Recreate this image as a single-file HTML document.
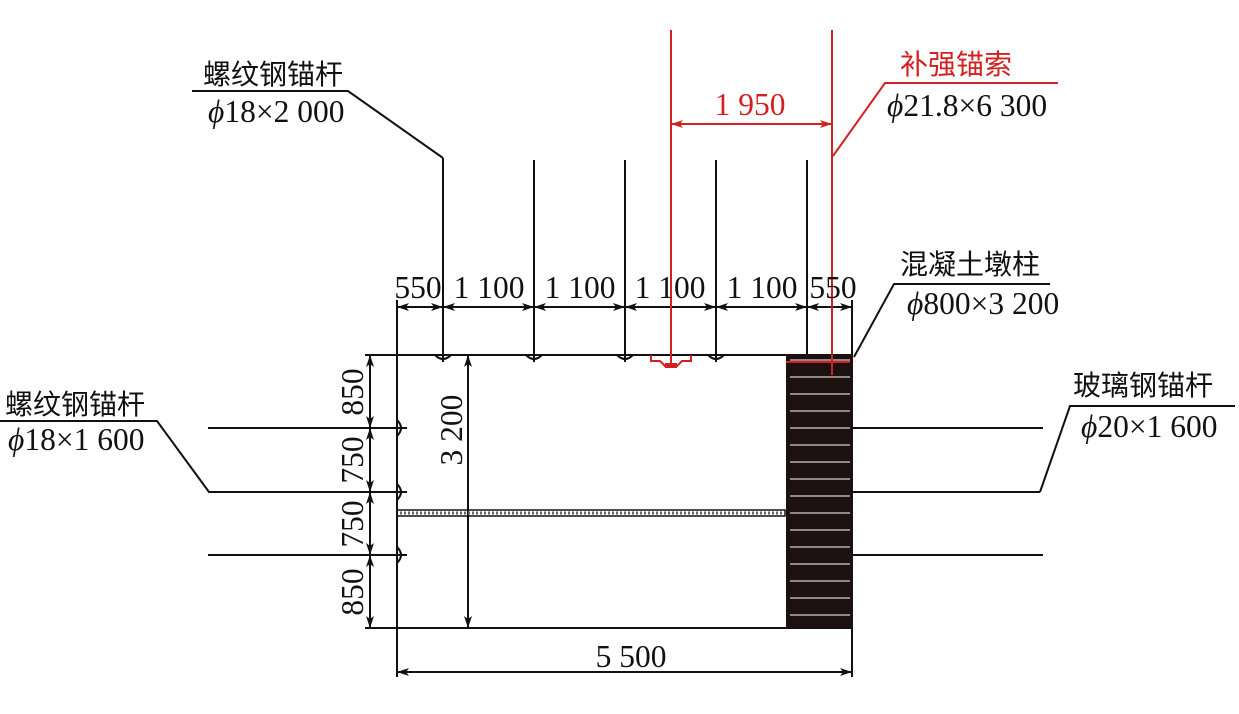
<!DOCTYPE html>
<html><head><meta charset="utf-8"><style>
html,body{margin:0;padding:0;background:#fff;}
svg{display:block;}
text{font-family:"Liberation Serif","Noto Serif CJK SC",serif;font-size:31.5px;fill:#111;}
.cn{font-family:"Liberation Serif","Noto Sans CJK SC",sans-serif;font-size:28px;}
</style></head><body>
<svg width="1239" height="714" viewBox="0 0 1239 714" xmlns="http://www.w3.org/2000/svg">
<defs>
<marker id="a" viewBox="0 0 12 8" refX="12" refY="4" markerWidth="12" markerHeight="8" markerUnits="userSpaceOnUse" orient="auto-start-reverse">
<path d="M0,0 L12,4 L0,8 L3,4 Z" fill="#111"/></marker>
<marker id="r" viewBox="0 0 12 8" refX="12" refY="4" markerWidth="12" markerHeight="8" markerUnits="userSpaceOnUse" orient="auto-start-reverse">
<path d="M0,0 L12,4 L0,8 L3,4 Z" fill="#d42020"/></marker>
</defs>
<g stroke="#111" stroke-width="2" fill="none">
<line x1="365" y1="355" x2="852" y2="355"/>
<line x1="365" y1="628" x2="853" y2="628"/>
<line x1="397" y1="300" x2="397" y2="677"/>
<line x1="852" y1="300" x2="852" y2="677"/>
<line x1="443" y1="158" x2="443" y2="362"/>
<line x1="534" y1="160" x2="534" y2="362"/>
<line x1="625" y1="160" x2="625" y2="362"/>
<line x1="716" y1="160" x2="716" y2="362"/>
<line x1="807" y1="160" x2="807" y2="355"/>
<path d="M435,355 Q443,363 451,355 M526,355 Q534,363 542,355 M617,355 Q625,363 633,355 M708,355 Q716,363 724,355"/>
<polyline points="192,91 348,91 443,158"/>
<line x1="397" y1="307" x2="852" y2="307"/>
<line x1="397" y1="307" x2="443" y2="307" marker-start="url(#a)" marker-end="url(#a)"/>
<line x1="443" y1="307" x2="534" y2="307" marker-start="url(#a)" marker-end="url(#a)"/>
<line x1="534" y1="307" x2="625" y2="307" marker-start="url(#a)" marker-end="url(#a)"/>
<line x1="625" y1="307" x2="716" y2="307" marker-start="url(#a)" marker-end="url(#a)"/>
<line x1="716" y1="307" x2="807" y2="307" marker-start="url(#a)" marker-end="url(#a)"/>
<line x1="807" y1="307" x2="852" y2="307" marker-start="url(#a)" marker-end="url(#a)"/>
<line x1="370" y1="355" x2="370" y2="628"/>
<line x1="370" y1="355" x2="370" y2="428" marker-start="url(#a)" marker-end="url(#a)"/>
<line x1="370" y1="428" x2="370" y2="492" marker-start="url(#a)" marker-end="url(#a)"/>
<line x1="370" y1="492" x2="370" y2="555" marker-start="url(#a)" marker-end="url(#a)"/>
<line x1="370" y1="555" x2="370" y2="628" marker-start="url(#a)" marker-end="url(#a)"/>
<line x1="468" y1="355" x2="468" y2="628" marker-start="url(#a)" marker-end="url(#a)"/>
<line x1="208" y1="428" x2="407" y2="428"/>
<line x1="208" y1="492" x2="407" y2="492"/>
<line x1="208" y1="555" x2="407" y2="555"/>
<path d="M397,420 Q405,428 397,436 M397,484 Q405,492 397,500 M397,547 Q405,555 397,563"/>
<polyline points="0,421 157,421 209,492"/>
<line x1="852" y1="428" x2="1043" y2="428"/>
<line x1="852" y1="492" x2="1040" y2="492"/>
<line x1="852" y1="555" x2="1043" y2="555"/>
<polyline points="1235,406 1070,406 1040,492"/>
<polyline points="1050,284 894,284 854,357"/>
<line x1="397" y1="672" x2="852" y2="672" marker-start="url(#a)" marker-end="url(#a)"/>
<rect x="397" y="510" width="388" height="6" stroke-width="1.5"/>
</g>
<path d="M400,513 H783" stroke="#666" stroke-width="3" stroke-dasharray="2 2"/>
<rect x="786" y="355" width="67" height="273" fill="#1c1010"/>
<g stroke="#fff" stroke-width="1">
<line x1="790" y1="360" x2="850" y2="360"/>
<line x1="790" y1="377" x2="850" y2="377"/>
<line x1="790" y1="394" x2="850" y2="394"/>
<line x1="790" y1="411" x2="850" y2="411"/>
<line x1="790" y1="428" x2="850" y2="428"/>
<line x1="790" y1="445" x2="850" y2="445"/>
<line x1="790" y1="462" x2="850" y2="462"/>
<line x1="790" y1="479" x2="850" y2="479"/>
<line x1="790" y1="496" x2="850" y2="496"/>
<line x1="790" y1="513" x2="850" y2="513"/>
<line x1="790" y1="530" x2="850" y2="530"/>
<line x1="790" y1="547" x2="850" y2="547"/>
<line x1="790" y1="564" x2="850" y2="564"/>
<line x1="790" y1="581" x2="850" y2="581"/>
<line x1="790" y1="598" x2="850" y2="598"/>
<line x1="790" y1="615" x2="850" y2="615"/>
</g>
<g stroke="#d42020" stroke-width="2" fill="none">
<line x1="671" y1="30" x2="671" y2="368"/>
<line x1="832" y1="30" x2="832" y2="375"/>
<line x1="671" y1="124" x2="832" y2="124" marker-start="url(#r)" marker-end="url(#r)"/>
<polyline points="833,156 885,83 1058,83"/>
<path d="M651,355 V361 H660 L666,367 H676 L682,361 H691 V355"/>
<line x1="786" y1="362" x2="850" y2="362"/>
</g>
<rect x="665" y="363" width="12" height="5" fill="#d42020"/>
<text class="cn" x="203" y="84">螺纹钢锚杆</text>
<text x="208" y="122"><tspan font-style="italic">ϕ</tspan>18×2 000</text>
<text class="cn" x="5" y="414">螺纹钢锚杆</text>
<text x="8" y="450"><tspan font-style="italic">ϕ</tspan>18×1 600</text>
<text class="cn" x="900" y="274">混凝土墩柱</text>
<text x="907" y="314"><tspan font-style="italic">ϕ</tspan>800×3 200</text>
<text class="cn" x="1073" y="395">玻璃钢锚杆</text>
<text x="1081" y="437"><tspan font-style="italic">ϕ</tspan>20×1 600</text>
<text class="cn" x="900" y="74" style="fill:#d42020">补强锚索</text>
<text x="887" y="116"><tspan font-style="italic">ϕ</tspan>21.8×6 300</text>
<text x="750" y="115" text-anchor="middle" style="fill:#d42020">1 950</text>
<g text-anchor="middle">
<text x="418" y="298">550</text>
<text x="489" y="298">1 100</text>
<text x="580" y="298">1 100</text>
<text x="670" y="298">1 100</text>
<text x="762" y="298">1 100</text>
<text x="833" y="298">550</text>
<text x="631" y="667">5 500</text>
<text transform="translate(363,392) rotate(-90)">850</text>
<text transform="translate(363,460) rotate(-90)">750</text>
<text transform="translate(363,524) rotate(-90)">750</text>
<text transform="translate(363,592) rotate(-90)">850</text>
<text transform="translate(462,430) rotate(-90)">3 200</text>
</g>
</svg>
</body></html>
